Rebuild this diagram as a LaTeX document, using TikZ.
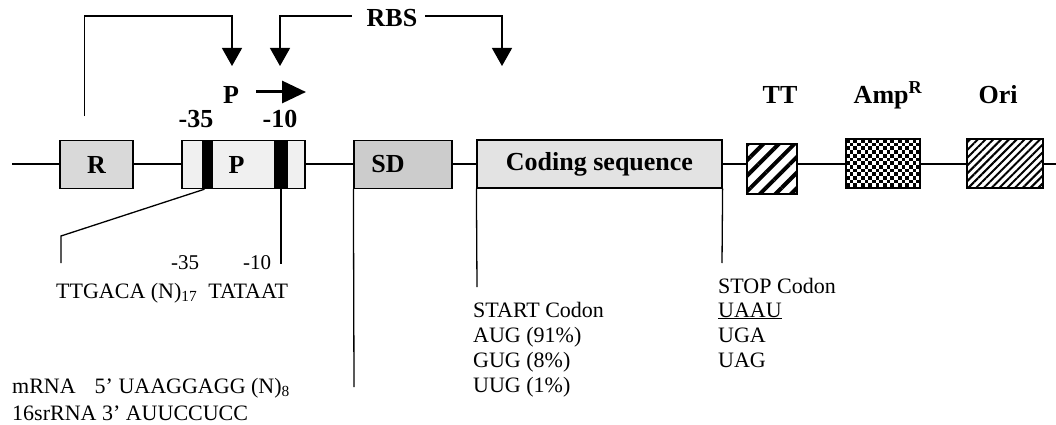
\documentclass[tikz,border=0pt]{standalone}
\usepackage{fontspec}
\setmainfont{Liberation Serif}
\usetikzlibrary{arrows.meta,patterns.meta}
\begin{document}
\begin{tikzpicture}[x=1pt,y=-1pt,
  box/.style={draw,line width=1.2pt,inner sep=0pt},
  bl/.style={font=\fontsize{26}{30}\selectfont\bfseries},
  tx/.style={font=\fontsize{22}{25}\selectfont,anchor=base west,inner sep=0pt},
  sm/.style={font=\fontsize{21}{24}\selectfont,anchor=base west,inner sep=0pt},
  con/.style={line width=1.3pt},
  fb/.style={line width=1.3pt,-{Triangle[width=20pt,length=18pt]}},
]
\useasboundingbox (0,0) rectangle (1056,425);
\fill[white] (0,0) rectangle (1056,425);
% main backbone
\coordinate (L) at (12,164);
\coordinate (Rt) at (1056,164);
\draw[line width=1.3pt] (L) -- (Rt);
% boxes
\node[box,fill=gray!30,minimum width=73pt,minimum height=48pt,bl] (R) at (96.5,164.5) {\raisebox{-4pt}{R}};
\node[box,fill=gray!12,minimum width=123pt,minimum height=48pt,bl] (P) at (243.5,164.5) {\hspace{-14pt}\raisebox{-4pt}{P}};
\node[fill=black,minimum width=11.5pt,minimum height=49pt,inner sep=0pt] (b35) at (207.5,164.5) {};
\node[fill=black,minimum width=14pt,minimum height=49pt,inner sep=0pt] (b10) at (281,164.5) {};
\node[box,fill=gray!40,minimum width=98pt,minimum height=48pt,bl] (SD) at (403,164.5) {\hspace{-30pt}\raisebox{-4pt}{SD}};
\node[box,fill=gray!22,minimum width=245pt,minimum height=48pt,bl] (C) at (599.5,164) {\raisebox{-3pt}{Coding sequence}};
\node[box,preaction={fill=white},pattern={Lines[angle=45,distance=11pt,line width=4pt]},minimum width=50pt,minimum height=50pt] (TT) at (772,169) {};
\node[box,fill=white,minimum width=74pt,minimum height=49pt] (Amp) at (883,163.5) {};
\begin{scope}
  \clip (Amp.south west) rectangle (Amp.north east);
  \foreach \i in {0,...,10} \foreach \j in {0,...,7} {
    \fill (846+2*\i*3.7,139+2*\j*3.7) rectangle ++(3.7,3.7);
    \fill (846+2*\i*3.7+3.7,139+2*\j*3.7+3.7) rectangle ++(3.7,3.7);
  }
\end{scope}
\draw[line width=1.2pt] (Amp.south west) rectangle (Amp.north east);
\node[box,preaction={fill=white},pattern={Lines[angle=45,distance=5.5pt,line width=2pt]},minimum width=76pt,minimum height=49pt] (Ori) at (1005,163.5) {};
% top labels
\node[bl,anchor=base] (t35) at (196,128) {-35};
\node[bl,anchor=base] (t10) at (280,128) {-10};
\node[bl,anchor=base,inner sep=0pt] (plab) at (231,103) {P};
\coordinate (pa0) at (256,92);
\coordinate (pa1) at (306,92);
\draw[line width=3pt,-{Triangle[width=22pt,length=24pt]}] (pa0) -- (pa1);
\node[bl,anchor=base] (ttl) at (780,103) {TT};
\node[bl,anchor=base] (ampl) at (888,103) {Amp\textsuperscript{R}};
\node[bl,anchor=base] (oril) at (998,103) {Ori};
% feedback arrows
\coordinate (r0) at (84.5,116);
\coordinate (ra) at (232,16);
\coordinate (tipA) at (232,66);
\draw[fb] (r0) |- (ra) -- (tipA);
\node[bl,anchor=base,inner xsep=0pt] (rbs) at (392,27) {RBS};
\coordinate (tipB) at (280,66);
\coordinate (tipC) at (502,66);
\draw[fb] ([xshift=-15pt,yshift=2.5pt]rbs.west) -| (tipB);
\draw[fb] ([xshift=8pt,yshift=2.5pt]rbs.east) -| (tipC);
% lower connectors
\coordinate (k1) at (61,236);
\coordinate (k2) at (61,263);
\draw[con] ([xshift=-3pt]b35.south) -- (k1) -- (k2);
\coordinate (k3) at (281,264);
\draw[con] (b10.south) -- (k3);
\coordinate (k4) at (354,387);
\draw[con] (SD.south west) -- (k4);
\coordinate (k5) at (477,287);
\draw[con] (C.south west) -- (k5);
\coordinate (k6) at (722,263);
\draw[con] (C.south east) -- (k6);
% lower texts
\node[sm] (s35) at (171,269) {-35};
\node[sm] (s10) at (243,269) {-10};
\node[tx] (seq) at (56,298) {TTGACA (N)\textsubscript{17}\ \ TATAAT};
\node[tx] (st0) at (473,317) {START Codon};
\node[tx] (st1) at (473,342) {AUG (91\%)};
\node[tx] (st2) at (473,367) {GUG (8\%)};
\node[tx] (st3) at (473,392) {UUG (1\%)};
\node[tx] (sp0) at (718,293) {STOP Codon};
\node[tx] (sp1) at (718,317) {\underline{UAAU}};
\node[tx] (sp2) at (718,342) {UGA};
\node[tx] (sp3) at (718,367) {UAG};
\node[tx] (m1) at (12,393) {mRNA\hspace{19pt}5' UAAGGAGG (N)\textsubscript{8}};
\node[tx] (m2) at (12,420) {16srRNA 3' AUUCCUCC};
\end{tikzpicture}
\end{document}
